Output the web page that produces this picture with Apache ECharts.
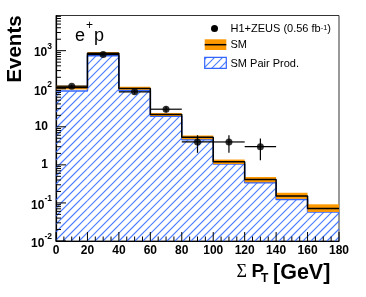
<!DOCTYPE html>
<html><head><meta charset="utf-8">
<script src="https://cdn.jsdelivr.net/npm/echarts@6/dist/echarts.min.js"></script>
<style>html,body{margin:0;padding:0;background:#fff}#c{width:366px;height:297px}</style>
</head><body><div id="c"></div>
<script>
// ---- data ----
const binEdges = [0, 20, 40, 60, 80, 100, 120, 140, 160, 180];
const smValues = [108, 850, 102, 21, 5.3, 1.2, 0.41, 0.153, 0.071];
const smBandLow = [96, 790, 94, 19.2, 4.7, 1.05, 0.35, 0.128, 0.058];
const smBandHigh = [120, 920, 112, 23, 5.9, 1.38, 0.48, 0.185, 0.092];
const pairValues = [87, 738, 88, 19, 4.6, 1.06, 0.34, 0.123, 0.058];
const dataX = [10, 30, 50, 70, 90, 110, 130];
const dataValues = [117, 790, 83, 29, 4, 4, 3];
const dataErrLow = [106, 762, 74, 23.6, 2.07, 2.07, 1.33];
const dataErrHigh = [128, 818, 92, 34.4, 6.0, 6.0, 4.95];
const xTickValues = [0, 20, 40, 60, 80, 100, 120, 140, 160, 180];
const xMinorStep = 5;
const yDecades = [-2, -1, 0, 1, 2, 3];
const X_MIN = 0, X_MAX = 180, Y_MIN = 0.01, Y_MAX = 8400;

const FONT = 'Liberation Sans';
const HATCH_COLOR = 'rgb(40,100,255)';
const HATCH_STEP = 8;

function stepData(vals) {
  const d = vals.map((v, i) => [binEdges[i], v]);
  d.push([binEdges[binEdges.length - 1], vals[vals.length - 1]]);
  return d;
}

// diagonal "/" hatch lines clipped to a pixel rectangle
function hatchLines(x0, y0, x1, y1) {
  const out = [];
  const cStart = Math.ceil((x0 + y0) / HATCH_STEP) * HATCH_STEP;
  for (let c = cStart; c <= x1 + y1; c += HATCH_STEP) {
    const xa = Math.max(x0, c - y1);
    const xb = Math.min(x1, c - y0);
    if (xb <= xa) continue;
    out.push({type: 'line', shape: {x1: xa, y1: c - xa, x2: xb, y2: c - xb},
      style: {stroke: HATCH_COLOR, fill: null, lineWidth: 1.1, opacity: 0.85}, silent: true});
  }
  return out;
}

// tick items: [x, y, orientation(0=x,1=y), length]
const tickItems = [];
for (let v = X_MIN; v <= X_MAX; v += xMinorStep) {
  const major = xTickValues.indexOf(v) >= 0;
  tickItems.push([v, Y_MIN, 0, major ? 9 : 4.5]);
}
yDecades.forEach(e => {
  for (let m = 1; m <= 9; m++) {
    const v = m * Math.pow(10, e);
    if (v > Y_MAX) break;
    tickItems.push([X_MIN, v, 1, m === 1 ? 10 : 5]);
  }
});

const pairItems = pairValues.map((v, i) => [binEdges[i], Y_MIN, binEdges[i + 1], v]);
const bandItems = smValues.map((v, i) => [binEdges[i], smBandLow[i], binEdges[i + 1], smBandHigh[i]]);
const errItems = dataX.map((x, i) => [x, dataValues[i], dataErrLow[i], dataErrHigh[i], x - 10, x + 10]);

const legendHatch = hatchLines(204.7, 57.3, 226.3, 68.3);

const chart = echarts.init(document.getElementById('c'), null, {renderer: 'canvas'});
chart.setOption({
  animation: false,
  backgroundColor: '#fff',
  grid: {left: 56, right: 27, top: 15.5, bottom: 56, show: true, borderColor: '#333', borderWidth: 1, containLabel: false, outerBoundsMode: 'none'},
  xAxis: {
    type: 'value', min: X_MIN, max: X_MAX, interval: 20,
    axisLine: {show: true, onZero: false, lineStyle: {color: '#000', width: 1.2}},
    axisTick: {show: false}, splitLine: {show: false},
    axisLabel: {margin: 4, color: '#000', fontFamily: FONT, fontWeight: 'bold', fontSize: 12}
  },
  yAxis: {
    type: 'log', logBase: 10, min: Y_MIN, max: Y_MAX,
    axisLine: {show: true, lineStyle: {color: '#000', width: 1.2}},
    axisTick: {show: false}, splitLine: {show: false},
    axisLabel: {
      margin: 4, showMaxLabel: false,
      formatter: function (v) {
        const e = Math.log10(v);
        const r = Math.round(e);
        if (Math.abs(e - r) > 1e-6) return '';
        if (r === 0) return '{p|1}';
        if (r === 1) return '{p|10}';
        return '{b|10}{s|' + r + '}';
      },
      rich: {
        b: {fontFamily: FONT, fontWeight: 'bold', fontSize: 12, color: '#000', lineHeight: 17, verticalAlign: 'bottom'},
        s: {fontFamily: FONT, fontWeight: 'bold', fontSize: 8.5, color: '#000', lineHeight: 9, verticalAlign: 'top'},
        p: {fontFamily: FONT, fontWeight: 'bold', fontSize: 12, color: '#000', padding: [0, 4, 0, 0]}
      }
    }
  },
  series: [
    {
      name: 'SM Pair Prod. fill', type: 'custom', data: pairItems, z: 1,
      encode: {x: [0, 2], y: [1, 3]},
      renderItem: function (params, api) {
        const p0 = api.coord([api.value(0), api.value(3)]);
        const p1 = api.coord([api.value(2), api.value(1)]);
        return {type: 'group', children: hatchLines(p0[0], p0[1], p1[0], p1[1])};
      }
    },
    {
      name: 'SM Pair Prod.', type: 'line', step: 'end', data: stepData(pairValues),
      symbol: 'none', lineStyle: {color: '#3366ff', width: 1.5}, z: 2
    },
    {
      name: 'band', type: 'custom', data: bandItems, z: 3,
      encode: {x: [0, 2], y: [1, 3]},
      renderItem: function (params, api) {
        const p0 = api.coord([api.value(0), api.value(3)]);
        const p1 = api.coord([api.value(2), api.value(1)]);
        return {type: 'rect', shape: {x: p0[0], y: p0[1], width: p1[0] - p0[0], height: p1[1] - p0[1]},
          style: {fill: '#ff9900'}};
      }
    },
    {
      name: 'SM', type: 'line', step: 'end', data: stepData(smValues),
      symbol: 'none', lineStyle: {color: '#000', width: 1.5}, z: 4
    },
    {
      name: 'errors', type: 'custom', data: errItems, z: 5,
      encode: {x: 0, y: 1},
      renderItem: function (params, api) {
        const lo = api.coord([api.value(0), api.value(2)]);
        const hi = api.coord([api.value(0), api.value(3)]);
        const l = api.coord([api.value(4), api.value(1)]);
        const r = api.coord([api.value(5), api.value(1)]);
        return {type: 'group', children: [
          {type: 'line', shape: {x1: lo[0], y1: lo[1], x2: hi[0], y2: hi[1]}, style: {stroke: '#000', lineWidth: 1.2}},
          {type: 'line', shape: {x1: l[0], y1: l[1], x2: r[0], y2: r[1]}, style: {stroke: '#000', lineWidth: 1.2}}
        ]};
      }
    },
    {
      name: 'H1+ZEUS', type: 'scatter', data: dataX.map((x, i) => [x, dataValues[i]]),
      symbol: 'circle', symbolSize: 7, itemStyle: {color: '#000'}, z: 6
    },
    {
      name: 'ticks', type: 'custom', data: tickItems, z: 7, clip: false, silent: true,
      encode: {x: 0, y: 1},
      renderItem: function (params, api) {
        const p = api.coord([api.value(0), api.value(1)]);
        const len = api.value(3);
        const horiz = api.value(2) === 1;
        return {type: 'line', shape: {x1: p[0], y1: p[1], x2: horiz ? p[0] + len : p[0], y2: horiz ? p[1] : p[1] - len},
          style: {stroke: '#000', lineWidth: 1}};
      }
    }
  ],
  graphic: [
    // y title
    {type: 'text', x: 15, y: 49, rotation: Math.PI / 2,
      style: {text: 'Events', font: 'bold 20.5px "Liberation Sans"', fill: '#000', align: 'center', verticalAlign: 'middle'}},
    // x title
    {type: 'text', x: 236.5, y: 272, style: {text: 'Σ', font: '18px "Liberation Serif"', fill: '#000', align: 'left', verticalAlign: 'middle'}},
    {type: 'text', x: 251.5, y: 272, style: {text: 'P', font: 'bold 19px "Liberation Sans"', fill: '#000', align: 'left', verticalAlign: 'middle'}},
    {type: 'text', x: 261, y: 279, style: {text: 'T', font: 'bold 12px "Liberation Sans"', fill: '#000', align: 'left', verticalAlign: 'middle'}},
    {type: 'text', x: 273, y: 273, style: {text: '[GeV]', font: 'bold 21.5px "Liberation Sans"', fill: '#000', align: 'left', verticalAlign: 'middle'}},
    // e+p label
    {type: 'text', x: 75, y: 36, style: {text: 'e', font: '18px "Liberation Sans"', fill: '#000', align: 'left', verticalAlign: 'middle'}},
    {type: 'text', x: 86, y: 26, style: {text: '+', font: '12px "Liberation Sans"', fill: '#000', align: 'left', verticalAlign: 'middle'}},
    {type: 'text', x: 94, y: 36, style: {text: 'p', font: '18px "Liberation Sans"', fill: '#000', align: 'left', verticalAlign: 'middle'}},
    // legend
    {type: 'circle', shape: {cx: 214.5, cy: 28.5, r: 3.5}, style: {fill: '#000'}},
    {type: 'text', x: 230.5, y: 29.3, style: {rich: {n: {font: '11px "Liberation Sans"', fill: '#000'}, s: {font: '7.5px "Liberation Sans"', fill: '#000', verticalAlign: 'top', lineHeight: 8}}, text: '{n|H1+ZEUS (0.56 fb}{s|-1}{n|)}', font: '11px "Liberation Sans"', fill: '#000', align: 'left', verticalAlign: 'middle'}},
    {type: 'rect', shape: {x: 204.7, y: 39.3, width: 21.6, height: 10.7}, style: {fill: '#ff9900'}},
    {type: 'line', shape: {x1: 204.7, y1: 44.7, x2: 226.3, y2: 44.7}, style: {stroke: '#000', lineWidth: 1.5}},
    {type: 'text', x: 230.5, y: 44.5, style: {text: 'SM', font: '11px "Liberation Sans"', fill: '#000', align: 'left', verticalAlign: 'middle'}},
    {type: 'group', children: legendHatch},
    {type: 'rect', shape: {x: 204.7, y: 57.3, width: 21.6, height: 11}, style: {fill: 'none', stroke: '#3366ff', lineWidth: 1.2}},
    {type: 'text', x: 230.5, y: 63.5, style: {text: 'SM Pair Prod.', font: '11px "Liberation Sans"', fill: '#000', align: 'left', verticalAlign: 'middle'}}
  ]
});
</script>
</body></html>
